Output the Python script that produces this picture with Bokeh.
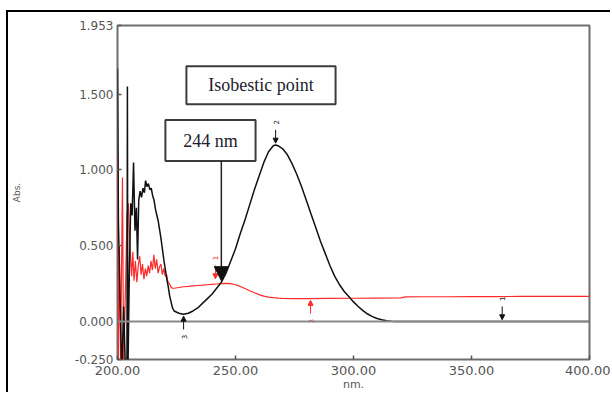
import math
from bokeh.plotting import figure
from bokeh.models import Range1d, FixedTicker, Span, Arrow, NormalHead
from bokeh.core.properties import value
from bokeh.embed import file_html
from bokeh.resources import INLINE

# ---------------- data ----------------
black_nm = [200.0, 200.4, 201.0, 201.8, 202.6, 203.4, 204.0, 204.2, 204.4, 205.0, 205.6, 206.2,
            206.8, 207.4, 208.0, 208.5, 209.0, 209.6, 210.2, 210.8, 211.4, 211.9, 212.5, 213.1,
            213.7, 214.3, 214.9, 215.5, 216.1, 216.7, 217.3, 217.9, 218.5, 219.1, 219.7, 220.3,
            220.9, 221.5, 222.1, 222.7, 223.3, 224.0, 226.0, 228.0, 230.0, 232.0, 234.0, 236.0,
            238.0, 240.0, 242.0, 244.0, 246.0, 248.0, 250.0, 252.0, 254.0, 256.0, 258.0, 260.0,
            262.0, 264.0, 266.0, 267.0, 268.0, 270.0, 272.0, 274.0, 276.0, 278.0, 280.0, 282.0,
            284.0, 286.0, 288.0, 290.0, 292.0, 294.0, 296.0, 298.0, 300.0, 302.0, 304.0, 306.0,
            308.0, 310.0, 312.0, 314.0, 316.0, 318.0, 320.0, 330.0, 340.0, 350.0, 360.0, 370.0,
            380.0, 390.0, 400.0]
black_abs = [1.67, 0.65, 0.20, -0.35, 0.10, -0.35, -0.35, 1.55, -0.35, 0.30, 0.78, 0.70,
             1.05, 0.60, 0.75, 0.41, 0.80, 0.86, 0.82, 0.88, 0.85, 0.93, 0.89, 0.91,
             0.87, 0.88, 0.83, 0.80, 0.74, 0.70, 0.66, 0.60, 0.54, 0.47, 0.40, 0.34,
             0.28, 0.23, 0.17, 0.13, 0.09, 0.07, 0.055, 0.048, 0.055, 0.07, 0.09, 0.12,
             0.15, 0.18, 0.22, 0.26, 0.32, 0.40, 0.48, 0.58, 0.67, 0.77, 0.87, 0.96,
             1.05, 1.12, 1.16, 1.165, 1.16, 1.14, 1.10, 1.04, 0.97, 0.89, 0.80, 0.71,
             0.62, 0.53, 0.45, 0.37, 0.30, 0.245, 0.20, 0.165, 0.13, 0.10, 0.072, 0.05,
             0.033, 0.02, 0.012, 0.006, 0.003, 0.001, 0.0, 0.0, 0.0, 0.0, 0.0, 0.0,
             0.0, 0.0, 0.0]

red_nm = [200.0, 200.3, 200.8, 201.3, 202.1, 202.6, 203.5, 204.0, 204.6, 205.0, 205.5, 206.0,
          206.5, 207.0, 207.6, 208.2, 208.8, 209.4, 210.0, 210.6, 211.2, 211.8, 212.4, 213.0,
          213.6, 214.2, 214.8, 215.4, 216.0, 216.6, 217.2, 217.8, 218.4, 219.0, 219.6, 220.2,
          220.8, 221.4, 222.0, 222.6, 223.2, 224.0, 226.0, 228.0, 230.0, 232.0, 234.0, 236.0,
          238.0, 240.0, 242.0, 244.0, 246.0, 248.0, 250.0, 252.0, 254.0, 256.0, 258.0, 260.0,
          262.0, 264.0, 266.0, 268.0, 270.0, 275.0, 280.0, 290.0, 300.0, 310.0, 320.0, 322.0,
          330.0, 340.0, 350.0, 360.0, 370.0, 380.0, 390.0, 400.0]
red_abs = [1.10, -0.30, 0.50, -0.30, 0.95, -0.30, 0.30, 0.70, 0.78, 0.60, 0.44, 0.30,
           0.46, 0.27, 0.40, 0.26, 0.37, 0.43, 0.31, 0.38, 0.28, 0.35, 0.30, 0.37,
           0.32, 0.40, 0.34, 0.44, 0.35, 0.41, 0.32, 0.36, 0.38, 0.31, 0.35, 0.30,
           0.31, 0.26, 0.25, 0.23, 0.22, 0.22, 0.225, 0.23, 0.232, 0.235, 0.238, 0.24,
           0.243, 0.246, 0.248, 0.25, 0.252, 0.25, 0.243, 0.232, 0.218, 0.203, 0.19, 0.178,
           0.168, 0.162, 0.158, 0.155, 0.153, 0.152, 0.152, 0.153, 0.154, 0.155, 0.156, 0.163,
           0.164, 0.164, 0.165, 0.165, 0.166, 0.166, 0.166, 0.166]

y_ticks = [-0.25, 0.0, 0.5, 1.0, 1.5, 1.953]
y_tick_labels = ["-0.250", "0.000", "0.500", "1.000", "1.500", "1.953"]
x_ticks = [200, 250, 300, 350, 400]
x_tick_labels = ["200.00", "250.00", "300.00", "350.00", "400.00"]

# peak / valley picks: wavelength, absorbance at the pick, label, colour, +1 = peak, -1 = valley
pick_nm = [267.0, 228.0, 363.0, 241.5, 281.8]
pick_abs = [1.165, 0.048, 0.0, 0.27, 0.152]
pick_label = ["2", "3", "1", "1", "3"]
pick_color = ["#111111", "#111111", "#111111", "#ff2a2a", "#ff2a2a"]
pick_kind = [1, -1, 1, 1, -1]

isosbestic_nm = 244.0
isosbestic_abs = 0.27
title_text = "Isobestic point"
wave_text = "244 nm"

# ---------------- figure ----------------
p = figure(width=604, height=382, output_backend="svg", toolbar_location=None,
           x_range=Range1d(200, 400), y_range=Range1d(-0.25, 1.953),
           min_border_left=109, min_border_right=23, min_border_top=13, min_border_bottom=35,
           styles={"border-top": "2px solid #000", "border-left": "2px solid #000",
                   "margin-left": "6px", "margin-top": "10px"})
p.grid.visible = False
p.background_fill_color = "white"
p.border_fill_color = "white"
p.outline_line_color = "#6f6f6f"
p.outline_line_width = 2

for ax in (p.xaxis[0], p.yaxis[0]):
    ax.axis_line_color = None
    ax.major_tick_in = 4
    ax.major_tick_out = 0
    ax.minor_tick_line_color = None
    ax.major_tick_line_color = "#555555"
    ax.major_tick_line_width = 1.5
    ax.major_label_text_font = "DejaVu Sans"
    ax.major_label_text_color = "#555555"
    ax.axis_label_text_font = "DejaVu Sans"
    ax.axis_label_text_font_style = "normal"
    ax.axis_label_text_color = "#555555"

p.yaxis.ticker = FixedTicker(ticks=y_ticks)
p.yaxis.major_label_overrides = dict(zip(y_ticks, y_tick_labels))
p.yaxis.major_label_text_font_size = "12px"
p.yaxis.major_label_standoff = 4
p.yaxis.axis_label = "Abs."
p.yaxis.axis_label_text_font_size = "9px"
p.yaxis.axis_label_standoff = 50

p.xaxis.ticker = FixedTicker(ticks=x_ticks)
p.xaxis.major_label_overrides = dict(zip(x_ticks, x_tick_labels))
p.xaxis.major_label_text_font_size = "13px"
p.xaxis.major_label_standoff = 6
p.xaxis.axis_label = "nm."
p.xaxis.axis_label_text_font_size = "11px"
p.xaxis.axis_label_standoff = 0

p.add_layout(Span(location=0, dimension="width", line_color="#8a8a8a", line_width=2))

p.line(red_nm, red_abs, line_color="#ff2a2a", line_width=1.2)
p.line(black_nm, black_abs, line_color="#111111", line_width=1.5)

# peak / valley markers
for nm, ab, lab, col, kind in zip(pick_nm, pick_abs, pick_label, pick_color, pick_kind):
    if kind > 0:
        ys, ye, yl = ab + 0.10, ab + 0.012, ab + 0.15
    else:
        ys, ye, yl = ab - 0.10, ab - 0.012, ab - 0.15
    p.add_layout(Arrow(end=NormalHead(size=5, fill_color=col, line_color=col),
                       x_start=nm, y_start=ys, x_end=nm, y_end=ye,
                       line_color=col, line_width=1))
    p.text(x=[nm], y=[yl], text=[lab], angle=math.pi / 2, text_align="center",
           text_baseline="middle", text_font=value("DejaVu Sans"), text_font_size="7px",
           text_color=col)

# annotation boxes
p.quad(left=[229.2], right=[292.4], bottom=[1.434], top=[1.684],
       fill_color="white", line_color="#3c3c3c", line_width=2)
p.text(x=[260.8], y=[1.559], text=[title_text], text_align="center", text_baseline="middle",
       text_font=value("Liberation Serif"), text_font_size="18px", text_color="#1c1c2c")

p.quad(left=[220.3], right=[258.5], bottom=[1.059], top=[1.329],
       fill_color="white", line_color="#3c3c3c", line_width=2)
p.text(x=[239.4], y=[1.194], text=[wave_text], text_align="center", text_baseline="middle",
       text_font=value("Liberation Serif"), text_font_size="18px", text_color="#1c1c2c")

p.add_layout(Arrow(end=NormalHead(size=14, fill_color="#111111", line_color="#111111"),
                   x_start=isosbestic_nm, y_start=1.059, x_end=isosbestic_nm, y_end=isosbestic_abs,
                   line_color="#222222", line_width=1.5))

open("out.html", "w").write(file_html(p, INLINE))
